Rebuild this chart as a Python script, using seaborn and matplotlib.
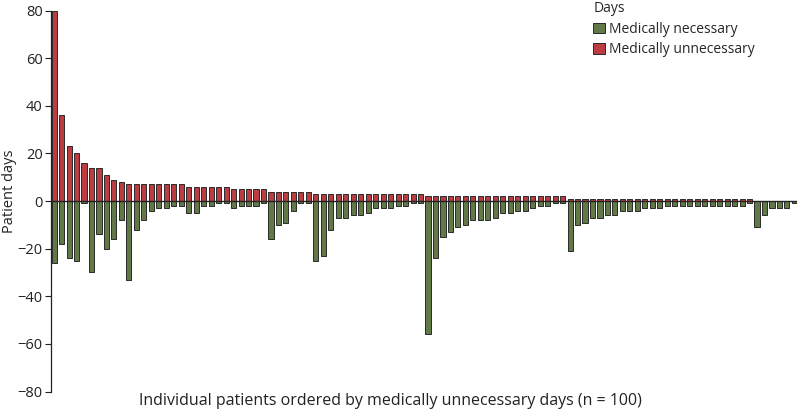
import numpy as np
import pandas as pd
import seaborn as sns
from matplotlib import pyplot as plt

# medically unnecessary days per patient (sorted, descending)
unnecessary = [80, 36, 23, 20, 16, 14, 14, 11, 9, 8,
               7, 7, 7, 7, 7, 7, 7, 7,
               6, 6, 6, 6, 6, 6,
               5, 5, 5, 5, 5,
               4, 4, 4, 4, 4, 4,
               3, 3, 3, 3, 3, 3, 3, 3, 3, 3, 3, 3, 3, 3, 3,
               2, 2, 2, 2, 2, 2, 2, 2, 2, 2, 2, 2, 2, 2, 2, 2, 2, 2, 2,
               1, 1, 1, 1, 1, 1, 1, 1, 1, 1, 1, 1, 1, 1, 1, 1, 1, 1, 1, 1,
               1, 1, 1, 1, 1,
               0, 0, 0, 0, 0, 0]

# medically necessary days for the same patients
necessary = [26, 18, 24, 25, 1, 30, 14, 20, 16, 8,
             33, 12, 8, 4, 3, 3, 2, 2, 5, 5,
             2, 2, 1, 1, 3, 2, 2, 2, 1, 16,
             10, 9, 4, 1, 1, 25, 23, 12, 7, 7,
             6, 6, 5, 3, 3, 3, 2, 2, 1, 1,
             56, 24, 15, 13, 11, 10, 8, 8, 8, 7,
             5, 5, 4, 4, 3, 2, 2, 1, 1, 21,
             10, 9, 7, 7, 6, 6, 4, 4, 4, 3,
             3, 3, 2, 2, 2, 2, 2, 2, 2, 2,
             2, 2, 2, 1, 11, 6, 3, 3, 3, 1]

patients = list(range(1, len(unnecessary) + 1))
yticks = [-80, -60, -40, -20, 0, 20, 40, 60, 80]

df = pd.concat([
    pd.DataFrame({'patient': patients, 'days': [-v for v in necessary],
                  'type': 'Medically necessary'}),
    pd.DataFrame({'patient': patients, 'days': unnecessary,
                  'type': 'Medically unnecessary'}),
])

sns.set_style('white')
plt.rcParams['font.family'] = ['Open Sans', 'DejaVu Sans']

fig = plt.figure(figsize=(7.99, 4.19), dpi=100)
ax = fig.add_axes([0.064, 0.0656, 0.934, 0.909])

sns.barplot(data=df, x='patient', y='days', hue='type',
            hue_order=['Medically necessary', 'Medically unnecessary'],
            palette=['#62803f', '#d0282f'], dodge=False, width=0.68,
            edgecolor='#2a2a2a', linewidth=0.7, errorbar=None, ax=ax)

# zero line drawn over the bars
ax.axhline(0, color='#222222', linewidth=1, zorder=5)

ax.set_ylim(-80, 80)
ax.set_xlim(-0.4, 99.4)
ax.set_yticks(yticks)
ax.set_xticks([])
ax.tick_params(axis='y', direction='out', length=4, width=0.8,
               labelsize=10.5, colors='#222222', left=True, pad=2)
for side in ['top', 'right', 'bottom']:
    ax.spines[side].set_visible(False)
ax.spines['left'].set_color('#222222')
ax.spines['left'].set_linewidth(0.9)

ax.set_xlabel('Individual patients ordered by medically unnecessary days (n = 100)',
              fontsize=11.5, color='#222222')
ax.set_ylabel('Patient days', fontsize=10.5, color='#222222')
ax.xaxis.set_label_coords(0.454, -0.004)
ax.yaxis.set_label_coords(-0.046, 0.527)

ax.legend(title='Days', loc='upper left', bbox_to_anchor=(0.741, 1.0),
          bbox_transform=fig.transFigure, frameon=False, fontsize=10,
          title_fontsize=10, alignment='left', handlelength=0.8,
          handleheight=0.8, handletextpad=0.3, labelspacing=0.4,
          borderaxespad=0, borderpad=0.1)

fig.savefig('out.png', dpi=100)
